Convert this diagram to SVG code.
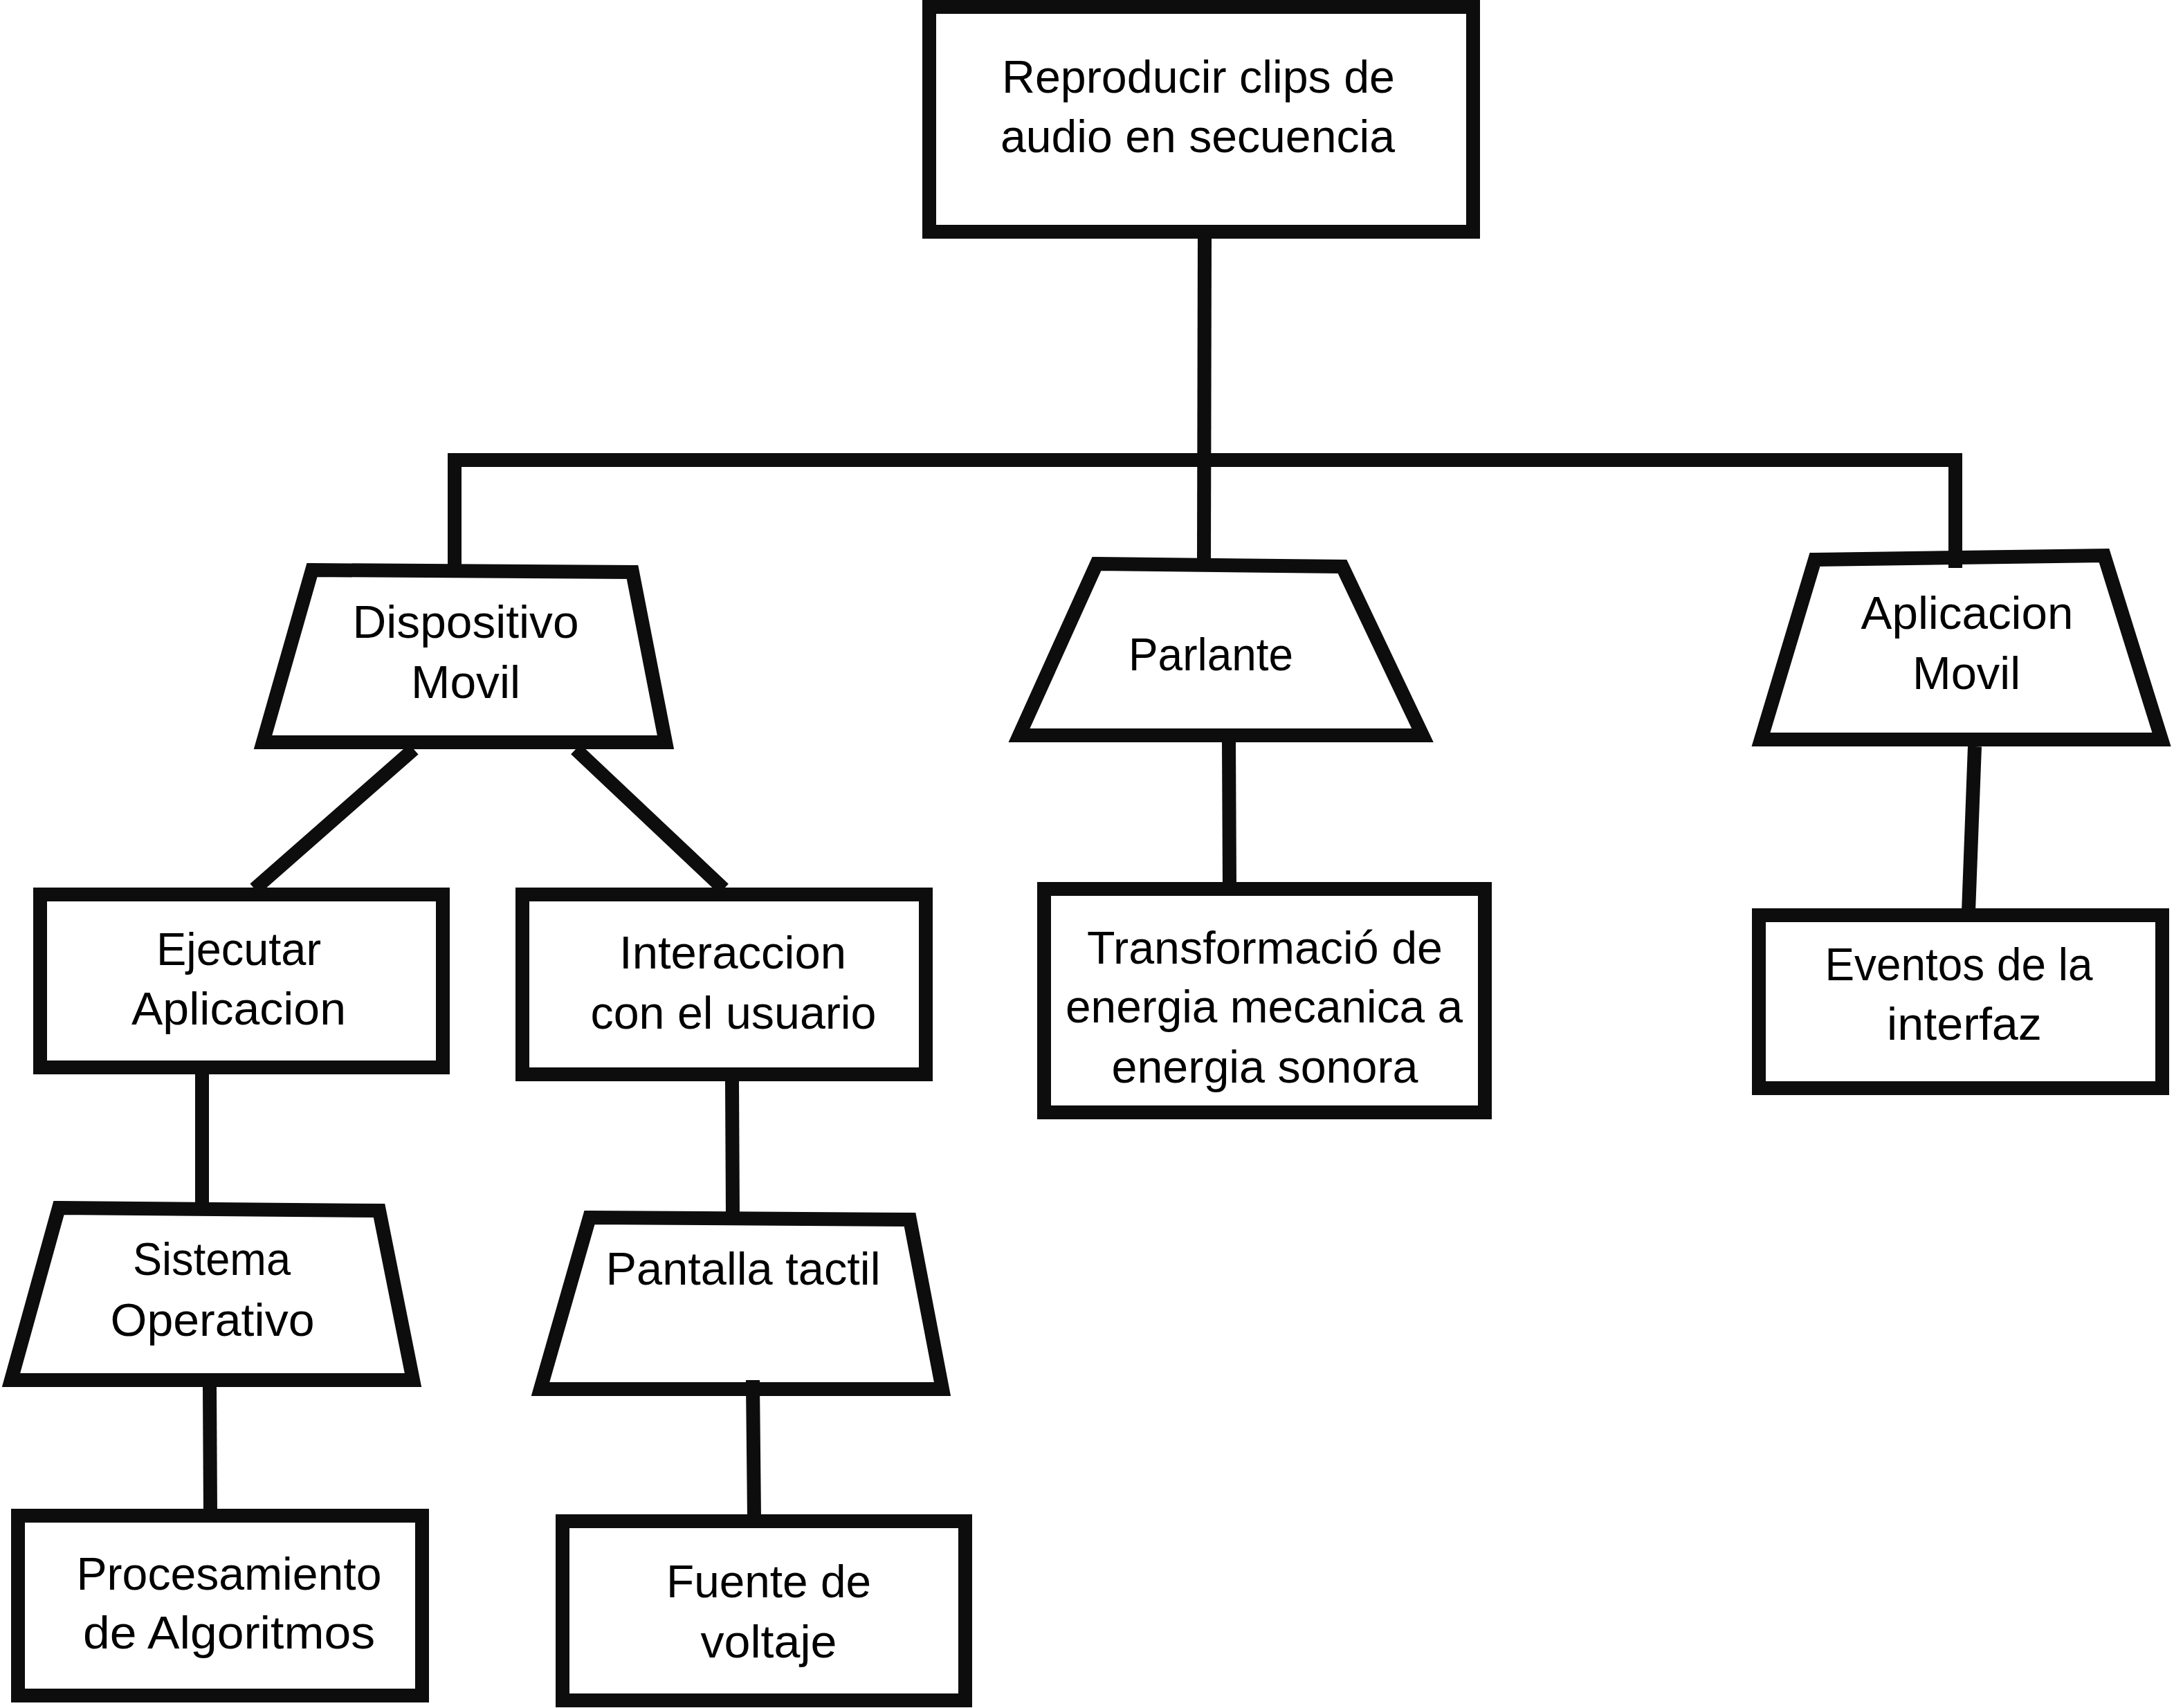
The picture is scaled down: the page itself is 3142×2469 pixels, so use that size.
<svg xmlns="http://www.w3.org/2000/svg" width="3142" height="2469" viewBox="0 0 3142 2469">
<style>
.n{fill:#fff;stroke:#0c0d0c;stroke-width:20;stroke-linejoin:miter}
.c{fill:none;stroke:#0c0d0c;stroke-width:20}
text{font-family:"Liberation Sans",Arial,sans-serif;font-size:67px;fill:#000;text-anchor:middle}
</style>
<rect width="3142" height="2469" fill="#fff"/>
<g id="connectors">
<path class="c" d="M1741,345 L1740,812"/>
<path class="c" d="M657,822 L657,665 L2826,665 L2826,821"/>
<path class="c" d="M598,1083 L368,1285"/>
<path class="c" d="M832,1083 L1046,1285"/>
<path class="c" d="M292,1553 L292,1742"/>
<path class="c" d="M303,2005 L304,2185"/>
<path class="c" d="M1058,1563 L1059,1757"/>
<path class="c" d="M1088,2000 L1090,2193"/>
<path class="c" d="M1776,1073 L1777,1280"/>
<path class="c" d="M2854,1079 L2845,1318"/>
</g>
<g id="n-root">
<rect class="n" x="1343" y="10" width="786" height="325"/>
<text x="1732" y="134" textLength="568" lengthAdjust="spacingAndGlyphs">Reproducir clips de</text>
<text x="1731" y="220" textLength="570" lengthAdjust="spacingAndGlyphs">audio en secuencia</text>
</g>
<g id="n-dispositivo">
<polygon class="n" points="451,824 914,827 962,1073 380,1073"/>
<text x="673" y="922" textLength="327" lengthAdjust="spacingAndGlyphs">Dispositivo</text>
<text x="673" y="1009" textLength="158" lengthAdjust="spacingAndGlyphs">Movil</text>
</g>
<g id="n-parlante">
<polygon class="n" points="1585,815 1940,819 2056,1063 1473,1063"/>
<text x="1750" y="969" textLength="238" lengthAdjust="spacingAndGlyphs">Parlante</text>
</g>
<g id="n-aplicacion">
<polygon class="n" points="2623,809 3041,803 3124,1069 2545,1069"/>
<path class="c" d="M2826,800 L2826,821"/>
<text x="2843" y="909" textLength="307" lengthAdjust="spacingAndGlyphs">Aplicacion</text>
<text x="2842" y="996" textLength="156" lengthAdjust="spacingAndGlyphs">Movil</text>
</g>
<g id="n-ejecutar">
<rect class="n" x="58" y="1293" width="582" height="250"/>
<text x="345" y="1395" textLength="238" lengthAdjust="spacingAndGlyphs">Ejecutar</text>
<text x="345" y="1481" textLength="310" lengthAdjust="spacingAndGlyphs">Aplicacion</text>
</g>
<g id="n-interaccion">
<rect class="n" x="755" y="1293" width="583" height="260"/>
<text x="1059" y="1400" textLength="328" lengthAdjust="spacingAndGlyphs">Interaccion</text>
<text x="1060" y="1487" textLength="413" lengthAdjust="spacingAndGlyphs">con el usuario</text>
</g>
<g id="n-transformacion">
<rect class="n" x="1509" y="1285" width="637" height="323"/>
<text x="1828" y="1393" textLength="514" lengthAdjust="spacingAndGlyphs">Transformació de</text>
<text x="1827" y="1478" textLength="574" lengthAdjust="spacingAndGlyphs">energia mecanica a</text>
<text x="1828" y="1565" textLength="443" lengthAdjust="spacingAndGlyphs">energia sonora</text>
</g>
<g id="n-eventos">
<rect class="n" x="2542" y="1323" width="583" height="250"/>
<text x="2831" y="1417" textLength="387" lengthAdjust="spacingAndGlyphs">Eventos de la</text>
<text x="2839" y="1503" textLength="224" lengthAdjust="spacingAndGlyphs">interfaz</text>
</g>
<g id="n-sistema">
<polygon class="n" points="85,1746 548,1750 597,1995 16,1995"/>
<text x="306" y="1843" textLength="228" lengthAdjust="spacingAndGlyphs">Sistema</text>
<text x="307" y="1931" textLength="295" lengthAdjust="spacingAndGlyphs">Operativo</text>
</g>
<g id="n-pantalla">
<polygon class="n" points="852,1760 1315,1763 1362,2008 781,2008"/>
<path class="c" d="M1088,1995 L1088,2010"/>
<text x="1074" y="1857" textLength="397" lengthAdjust="spacingAndGlyphs">Pantalla tactil</text>
</g>
<g id="n-procesamiento">
<rect class="n" x="26" y="2191" width="584" height="260"/>
<text x="331" y="2298" textLength="441" lengthAdjust="spacingAndGlyphs">Procesamiento</text>
<text x="331" y="2383" textLength="422" lengthAdjust="spacingAndGlyphs">de Algoritmos</text>
</g>
<g id="n-fuente">
<rect class="n" x="813" y="2199" width="582" height="259"/>
<text x="1111" y="2309" textLength="296" lengthAdjust="spacingAndGlyphs">Fuente de</text>
<text x="1111" y="2396" textLength="197" lengthAdjust="spacingAndGlyphs">voltaje</text>
</g>
</svg>
